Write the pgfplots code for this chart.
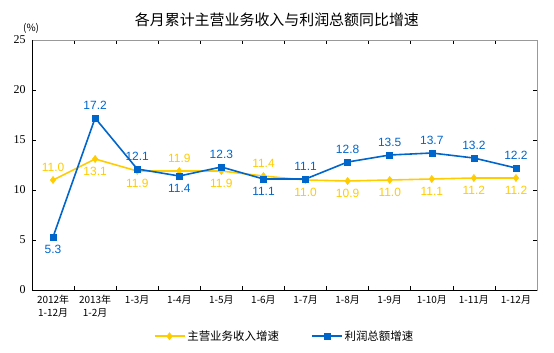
\documentclass[border=0pt]{standalone}
\usepackage{pgfplots}
\pgfplotsset{compat=1.18}
\usepackage{fontspec}
\setmainfont{Liberation Serif}
\newfontfamily\cjk{Noto Sans CJK SC}
\newfontfamily\lab{Liberation Sans}
\definecolor{ylw}{RGB}{255,204,0}
\definecolor{blu}{RGB}{0,102,204}
\begin{document}
\begin{tikzpicture}[x=1bp,y=1bp]
\useasboundingbox (-32,-62) rectangle (522,290);
\begin{axis}[
  at={(0,0)}, anchor=south west,
  scale only axis, width=505bp, height=250bp,
  xmin=0.5, xmax=12.5, ymin=0, ymax=25,
  ytick={0,5,...,25},
  xtick={1,...,12},
  xticklabels={{2012年\\1-12月},{2013年\\1-2月},1-3月,1-4月,1-5月,1-6月,1-7月,1-8月,1-9月,1-10月,1-11月,1-12月},
  x tick label style={font=\cjk\fontsize{10}{12.5}\selectfont, align=center, anchor=north, yshift=-2bp},
  y tick label style={font=\fontsize{12}{13}\selectfont, xshift=-3bp},
  /pgf/number format/assume math mode=true,
  major x tick style={draw=none},
  minor xtick={1.5,2.5,...,11.5},
  minor tick length=4bp,
  major tick length=4bp,
  tick align=inside,
  tick style={black, line width=0.6pt},
  axis line style={draw=gray!80, line width=0.8pt},
  clip=false,
  legend columns=2,
  legend style={at={(0.5,-0.185)}, anchor=center, draw=none, font=\cjk\fontsize{11.5}{13}\selectfont,
    /tikz/every even column/.append style={column sep=30bp}},
  legend image code/.code={\draw[mark repeat=2,mark phase=2,#1] plot coordinates {(0bp,0bp) (15bp,0bp) (30bp,0bp)};},
  lblA/.style={only marks, mark=none, forget plot, point meta=y,
    nodes near coords={\pgfmathprintnumber[fixed,fixed zerofill,precision=1]{\pgfplotspointmeta}},
    every node near coord/.append style={font=\lab\fontsize{12}{13}\selectfont, anchor=south, inner sep=4.5bp, yshift=3.5bp, text=#1}},
  lblB/.style={only marks, mark=none, forget plot, point meta=y,
    nodes near coords={\pgfmathprintnumber[fixed,fixed zerofill,precision=1]{\pgfplotspointmeta}},
    every node near coord/.append style={font=\lab\fontsize{12}{13}\selectfont, anchor=north, inner sep=4.5bp, yshift=-3.5bp, text=#1}},
]
\addplot[ylw, line width=1.6pt, mark=diamond*, mark size=3.6bp, mark options={solid, fill=ylw, draw=ylw, line width=0.5pt}]
  coordinates {(1,11.0) (2,13.1) (3,11.9) (4,11.9) (5,11.9) (6,11.4) (7,11.0) (8,10.9) (9,11.0) (10,11.1) (11,11.2) (12,11.2)};
\addlegendentry{主营业务收入增速}
\addplot[blu, line width=1.6pt, mark=square*, mark size=3bp, mark options={solid, fill=blu, draw=blu, line width=0.5pt}]
  coordinates {(1,5.3) (2,17.2) (3,12.1) (4,11.4) (5,12.3) (6,11.1) (7,11.1) (8,12.8) (9,13.5) (10,13.7) (11,13.2) (12,12.2)};
\addlegendentry{利润总额增速}
% labels: income
\addplot[lblA=ylw] coordinates {(1,11.0) (4,11.9) (6,11.4)};
\addplot[lblB=ylw] coordinates {(2,13.1) (3,11.9) (5,11.9) (7,11.0) (8,10.9) (9,11.0) (10,11.1) (11,11.2) (12,11.2)};
% labels: profit
\addplot[lblA=blu] coordinates {(2,17.2) (3,12.1) (5,12.3) (7,11.1) (8,12.8) (9,13.5) (10,13.7) (11,13.2) (12,12.2)};
\addplot[lblB=blu] coordinates {(1,5.3) (4,11.4) (6,11.1)};
\draw[black, line width=0.8pt] (rel axis cs:0,1) -- (rel axis cs:0,0) -- (rel axis cs:1,0);
\node[anchor=south west, font=\cjk\fontsize{10}{11}\selectfont, inner sep=0] at ([xshift=-9bp,yshift=6bp]rel axis cs:0,1) {(\%)};
\node[font=\cjk\fontsize{15}{17}\selectfont] at ([yshift=20bp]rel axis cs:0.485,1) {各月累计主营业务收入与利润总额同比增速};
\end{axis}
\end{tikzpicture}
\end{document}
